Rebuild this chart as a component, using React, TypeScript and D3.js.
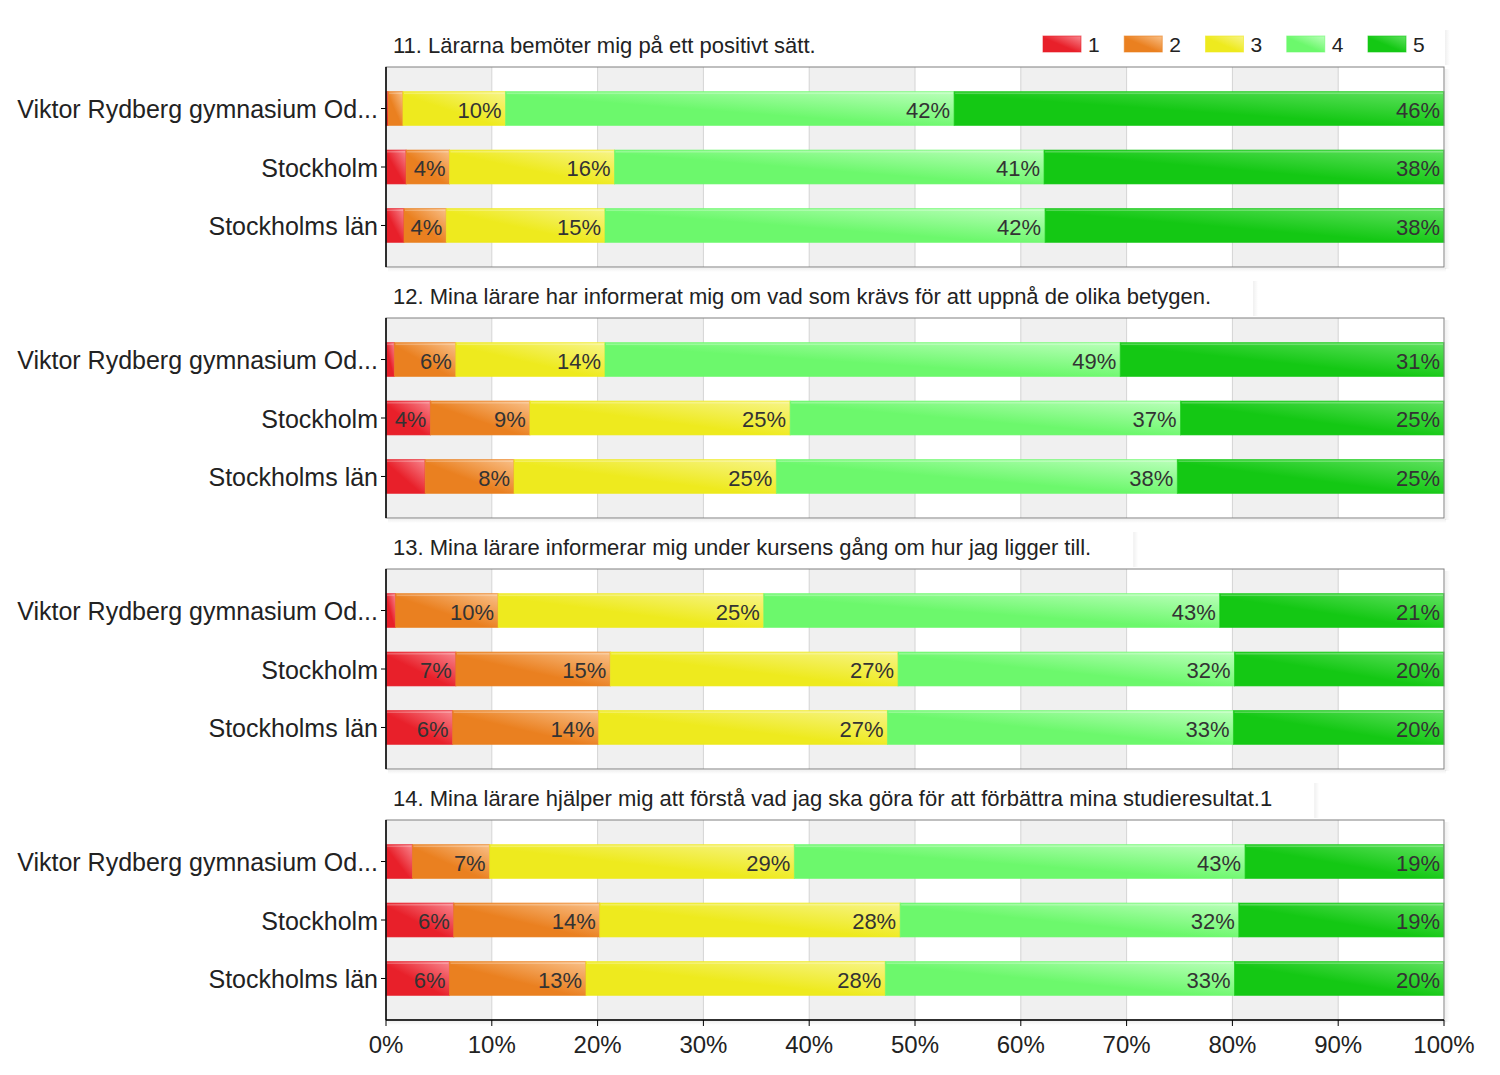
import React from "react";
import * as d3 from "d3";

const categories = ["Viktor Rydberg gymnasium Od...", "Stockholm", "Stockholms län"];
const questionTitles = [
  "11. Lärarna bemöter mig på ett positivt sätt.",
  "12. Mina lärare har informerat mig om vad som krävs för att uppnå de olika betygen.",
  "13. Mina lärare informerar mig under kursens gång om hur jag ligger till.",
  "14. Mina lärare hjälper mig att förstå vad jag ska göra för att förbättra mina studieresultat.1",
];
const levels = ["1", "2", "3", "4", "5"];
const q11Values = [
  [0.2, 1.4, 9.7, 42.4, 46.3],
  [1.9, 4.1, 15.6, 40.6, 37.8],
  [1.7, 4.0, 15.0, 41.6, 37.7],
];
const q12Values = [
  [0.8, 5.8, 14.1, 48.7, 30.6],
  [4.2, 9.4, 24.6, 36.9, 24.9],
  [3.7, 8.4, 24.8, 37.9, 25.2],
];
const q13Values = [
  [0.9, 9.7, 25.1, 43.1, 21.2],
  [6.6, 14.6, 27.2, 31.8, 19.8],
  [6.3, 13.8, 27.3, 32.7, 19.9],
];
const q14Values = [
  [2.5, 7.3, 28.8, 42.6, 18.8],
  [6.4, 13.8, 28.4, 32.0, 19.4],
  [6.0, 12.9, 28.3, 33.0, 19.8],
];
const xTicks = [0, 10, 20, 30, 40, 50, 60, 70, 80, 90, 100];

const panels = [q11Values, q12Values, q13Values, q14Values];
const baseColors = ["#e8202a", "#ea8020", "#eeea1e", "#6cf86c", "#14c814"];
const lightColors = ["#f8868e", "#f9c088", "#f7f488", "#baffba", "#60e260"];

const W = 1500;
const H = 1075;
const LEFT = 386;
const RIGHT = 1444;
const TOP0 = 67;
const STEP = 251;
const PH = 200;
const FONT = "'Liberation Sans', Arial, sans-serif";
const TITLE_SIZE = 22;

function measure(text: string, size: number): number {
  if (typeof document === "undefined") return text.length * size * 0.5;
  const c = document.createElement("canvas");
  const ctx = c.getContext("2d");
  if (!ctx) return text.length * size * 0.5;
  ctx.font = `${size}px 'Liberation Sans', Arial, sans-serif`;
  return ctx.measureText(text).width;
}

export default function App() {
  const x = d3.scaleLinear().domain([0, 100]).range([LEFT, RIGHT]);

  return (
    <svg
      width={W}
      height={H}
      style={{ position: "absolute", left: 0, top: 0, background: "#fff" }}
      fontFamily={FONT}
    >
      <defs>
        {levels.map((l, i) => (
          <linearGradient key={l} id={`g${i}`} x1="0" y1="1" x2="1" y2="0">
            <stop offset="0%" stopColor={baseColors[i]} />
            <stop offset="45%" stopColor={baseColors[i]} />
            <stop offset="100%" stopColor={lightColors[i]} />
          </linearGradient>
        ))}
        <linearGradient id="shadowV" x1="0" y1="0" x2="1" y2="0">
          <stop offset="0%" stopColor="#000" stopOpacity="0.06" />
          <stop offset="100%" stopColor="#000" stopOpacity="0" />
        </linearGradient>
        <linearGradient id="shadowH" x1="0" y1="0" x2="0" y2="1">
          <stop offset="0%" stopColor="#000" stopOpacity="0.06" />
          <stop offset="100%" stopColor="#000" stopOpacity="0" />
        </linearGradient>
      </defs>
      {panels.map((data, p) => {
        const top = TOP0 + p * STEP;
        const y = d3
          .scaleBand<string>()
          .domain(categories)
          .range([top, top + PH])
          .padding(0.42);
        const isLast = p === panels.length - 1;
        const titleW = measure(questionTitles[p], TITLE_SIZE);
        const shadowX = p === 0 ? RIGHT + 1 : LEFT + 7 + titleW + 42;
        return (
          <g key={p}>
            <rect x={shadowX} y={top - 37} width={5} height={35} fill="url(#shadowV)" />
            <rect x={RIGHT + 1} y={top + 2} width={5} height={PH} fill="url(#shadowV)" />
            <rect x={LEFT + 2} y={top + PH + 1} width={RIGHT - LEFT} height={4} fill="url(#shadowH)" />
            <text x={LEFT + 7} y={top - 14} fontSize={TITLE_SIZE} fill="#222">
              {questionTitles[p]}
            </text>
            {xTicks.slice(0, -1).map((t, i) =>
              i % 2 === 0 ? (
                <rect key={t} x={x(t)} y={top} width={x(t + 10) - x(t)} height={PH} fill="#f0f0f0" />
              ) : null
            )}
            {xTicks.slice(1, -1).map((t) => (
              <line key={t} x1={x(t)} x2={x(t)} y1={top} y2={top + PH} stroke="#d4d4d4" strokeWidth={1} />
            ))}
            {categories.map((c, ci) => {
              const vals = data[ci];
              const cum = d3.cumsum(vals);
              const by = y(c) as number;
              const bh = y.bandwidth();
              return (
                <g key={c}>
                  {vals.map((v, li) => {
                    const x0 = x(cum[li] - v);
                    const x1 = x(cum[li]);
                    const w = x1 - x0;
                    return (
                      <g key={li}>
                        <rect
                          x={x0}
                          y={by}
                          width={w}
                          height={bh}
                          fill={`url(#g${li})`}
                          stroke={baseColors[li]}
                          strokeOpacity={0.6}
                          strokeWidth={1}
                        />
                        <rect x={x0 + 1} y={by + 1} width={Math.max(0, w - 2)} height={1.5} fill="#fff" opacity={0.25} />
                        {w >= 40 ? (
                          <text
                            x={x1 - 4}
                            y={by + bh / 2}
                            dy="0.42em"
                            textAnchor="end"
                            fontSize={22}
                            fill="#333"
                          >
                            {`${Math.round(v)}%`}
                          </text>
                        ) : null}
                      </g>
                    );
                  })}
                  <line x1={LEFT - 5} x2={LEFT} y1={by + bh / 2} y2={by + bh / 2} stroke="#000" />
                  <text
                    x={LEFT - 8}
                    y={by + bh / 2}
                    dy="0.38em"
                    textAnchor="end"
                    fontSize={25}
                    fill="#222"
                  >
                    {c}
                  </text>
                </g>
              );
            })}
            <rect x={LEFT} y={top} width={RIGHT - LEFT} height={PH} fill="none" stroke="#808080" strokeWidth={1} />
            <line x1={LEFT} x2={LEFT} y1={top} y2={top + PH} stroke="#000" strokeWidth={1.5} />
            {isLast ? (
              <g>
                <line x1={LEFT} x2={RIGHT} y1={top + PH} y2={top + PH} stroke="#000" strokeWidth={1.5} />
                {xTicks.map((t) => (
                  <g key={t}>
                    <line x1={x(t)} x2={x(t)} y1={top + PH} y2={top + PH + 6} stroke="#000" />
                    <text x={x(t)} y={top + PH + 33} textAnchor="middle" fontSize={24} fill="#222">
                      {`${t}%`}
                    </text>
                  </g>
                ))}
              </g>
            ) : null}
          </g>
        );
      })}
      {levels.map((l, i) => (
        <g key={l} transform={`translate(${1043 + i * 81.25},36)`}>
          <rect width={38} height={16} fill={`url(#g${i})`} stroke={baseColors[i]} strokeOpacity={0.6} />
          <text x={45} y={8} dy="0.38em" fontSize={21} fill="#222">
            {l}
          </text>
        </g>
      ))}
    </svg>
  );
}
